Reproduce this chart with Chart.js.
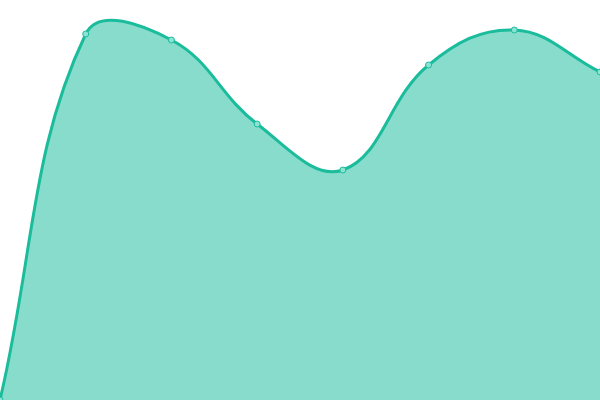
<!DOCTYPE html>
<html>
<head>
<meta charset="utf-8">
<script src="https://cdn.jsdelivr.net/npm/chart.js@4/dist/chart.umd.min.js"></script>
<style>
  html, body { margin: 0; padding: 0; background: #ffffff; }
  #wrap { width: 600px; height: 400px; }
</style>
</head>
<body>
<div id="wrap"><canvas id="areaChart"></canvas></div>
<script>
const LABELS = ["1", "2", "3", "4", "5", "6", "7", "8"];
const VALUES = [0, 91.5, 90, 69, 57.5, 83.75, 92.5, 82];

const LINE_COLOR = "#1abc9c";
const FILL_COLOR = "rgba(26, 188, 156, 0.52)";

new Chart(document.getElementById("areaChart"), {
  type: "line",
  data: {
    labels: LABELS,
    datasets: [
      {
        data: VALUES,
        borderColor: LINE_COLOR,
        backgroundColor: FILL_COLOR,
        borderWidth: 3,
        fill: true,
        tension: 0.4,
        pointRadius: 3,
        pointBorderWidth: 1,
        pointBorderColor: LINE_COLOR,
        pointBackgroundColor: "#8be3d1"
      }
    ]
  },
  options: {
    responsive: true,
    maintainAspectRatio: false,
    animation: false,
    layout: { padding: 0, autoPadding: false },
    plugins: {
      legend: { display: false },
      tooltip: { enabled: false }
    },
    scales: {
      x: { display: false },
      y: { display: false, min: 0, max: 100 }
    }
  }
});
</script>
</body>
</html>
